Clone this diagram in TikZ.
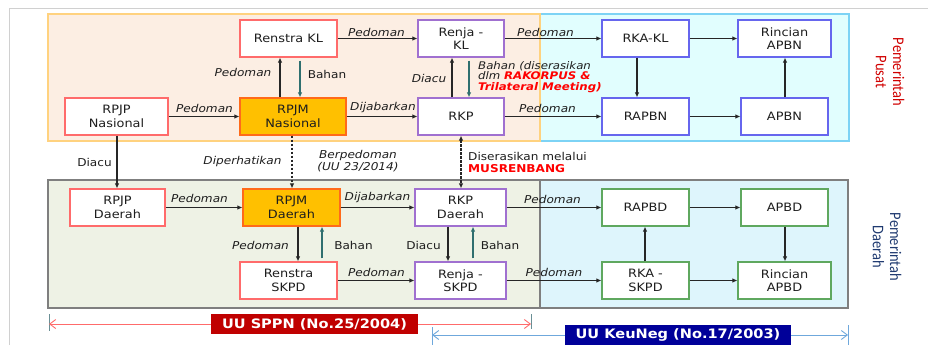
\documentclass[tikz,border=0pt]{standalone}
\usepackage{fontspec}
\setmainfont{DejaVu Sans}[FakeStretch=1.12]
\newfontfamily\carl{Carlito}
\usetikzlibrary{arrows.meta}
\definecolor{framec}{HTML}{D0D0D0}
\definecolor{peachf}{HTML}{FCEEE3}
\definecolor{peachb}{HTML}{FFD27F}
\definecolor{cyanf}{HTML}{E1FEFE}
\definecolor{cyanb}{HTML}{7DD3F5}
\definecolor{greenf}{HTML}{EEF2E5}
\definecolor{bluef}{HTML}{DEF5FC}
\definecolor{greyb}{HTML}{7F7F7F}
\definecolor{txt}{HTML}{1E1E1E}
\definecolor{arrc}{HTML}{262626}
\definecolor{tealc}{HTML}{2F6F6F}
\definecolor{boxred}{HTML}{FF6B6B}
\definecolor{boxorange}{HTML}{FF6A1A}
\definecolor{fillorange}{HTML}{FFC000}
\definecolor{boxpurple}{HTML}{A070D0}
\definecolor{boxblue}{HTML}{6666EE}
\definecolor{boxgreen}{HTML}{5FA85F}
\definecolor{hot}{HTML}{FF0000}
\definecolor{sppnc}{HTML}{C00000}
\definecolor{keunegc}{HTML}{000099}
\definecolor{redl}{HTML}{FF6B6B}
\definecolor{bluel}{HTML}{6FA8DC}
\definecolor{tickc}{HTML}{6A8F95}
\definecolor{pusatc}{HTML}{D00000}
\definecolor{daerahc}{HTML}{1F3A70}
\tikzset{
  box/.style={draw, line width=1.2pt, fill=white, minimum height=37pt, inner sep=1pt,
    align=center, text=txt, font=\fontsize{11.5}{13.5}\selectfont},
  rbox/.style={box, draw=boxred},
  obox/.style={box, draw=boxorange, fill=fillorange},
  pbox/.style={box, draw=boxpurple},
  bbox/.style={box, draw=boxblue},
  gbox/.style={box, draw=boxgreen},
  arr/.style={-{Latex[length=5pt,width=4.5pt]}, line width=1.1pt, draw=arrc},
  tarr/.style={arr, draw=tealc, shorten <=3pt},
  darr/.style={arr, dash pattern=on 2.5pt off 1.5pt},
  lbl/.style={inner sep=0pt, text=txt, font=\fontsize{10.8}{12}\selectfont\itshape},
  lblr/.style={inner sep=0pt, text=txt, font=\fontsize{10.8}{12}\selectfont},
  sidelbl/.style={xscale=1.12, rotate=-90, align=center, font=\carl\fontsize{14.5}{15.5}\selectfont},
  lawbox/.style={inner sep=0pt, minimum height=20pt, text=white, font=\fontsize{13}{15}\selectfont\bfseries},
  barb/.style={{Straight Barb[length=6pt,width=9pt]}-{Straight Barb[length=6pt,width=9pt]}}
}
\begin{document}
\begin{tikzpicture}[x=1pt,y=-1pt]
\useasboundingbox (0,0) rectangle (928,345);
% outer frame
\draw[framec, line width=1pt] (9,345) -- (9,8.5) -- (928,8.5);
% panels
\filldraw[fill=cyanf, draw=cyanb, line width=1.3pt] (540,14) rectangle (849,141);
\filldraw[fill=peachf, draw=peachb, line width=1.3pt] (48,14) rectangle (540,141);
\filldraw[fill=bluef, draw=greyb, line width=1.3pt] (540,180) rectangle (848,308);
\filldraw[fill=greenf, draw=greyb, line width=1.3pt] (48,180) rectangle (540,308);

% column coordinates
\coordinate (c117) at (117,0);
\coordinate (c280) at (280,0);
\coordinate (c300) at (300,0);
\coordinate (c292) at (292,0);
\coordinate (c452) at (452,0);
\coordinate (c469) at (469,0);
\coordinate (c461) at (461,0);
\coordinate (c637) at (637,0);
\coordinate (c785) at (785,0);
\coordinate (c298) at (298,0);
\coordinate (c322) at (322,0);
\coordinate (c448) at (448,0);
\coordinate (c473) at (473,0);
\coordinate (c645) at (645,0);

% upper nodes
\node[rbox, minimum width=97pt] (renstraKL) at (288.5,38.5) {Renstra KL};
\node[pbox, minimum width=86pt] (renjaKL) at (461,38.5) {Renja -\\KL};
\node[bbox, minimum width=87pt] (rkaKL) at (645.5,38.5) {RKA-KL};
\node[bbox, minimum width=93pt] (rincianAPBN) at (784.5,38.5) {Rincian\\APBN};
\node[rbox, minimum width=103pt] (rpjpN) at (116.5,116.5) {RPJP\\Nasional};
\node[obox, minimum width=106pt] (rpjmN) at (293,116.5) {RPJM\\Nasional};
\node[pbox, minimum width=86pt] (rkp) at (461,116.5) {RKP};
\node[bbox, minimum width=87pt] (rapbn) at (645.5,116.5) {RAPBN};
\node[bbox, minimum width=87pt] (apbn) at (784.5,116.5) {APBN};

% lower nodes
\node[rbox, minimum width=95pt] (rpjpD) at (117.5,207.5) {RPJP\\Daerah};
\node[obox, minimum width=97pt] (rpjmD) at (291.5,207.5) {RPJM\\Daerah};
\node[pbox, minimum width=91pt] (rkpD) at (460.5,207.5) {RKP\\Daerah};
\node[gbox, minimum width=87pt] (rapbd) at (645.5,207.5) {RAPBD};
\node[gbox, minimum width=87pt] (apbd) at (784.5,207.5) {APBD};
\node[rbox, minimum width=97pt] (renstraSKPD) at (288.5,280.5) {Renstra\\SKPD};
\node[pbox, minimum width=91pt] (renjaSKPD) at (460.5,280.5) {Renja -\\SKPD};
\node[gbox, minimum width=87pt] (rkaSKPD) at (645.5,280.5) {RKA -\\SKPD};
\node[gbox, minimum width=93pt] (rincianAPBD) at (784.5,280.5) {Rincian\\APBD};

% upper horizontal connectors
\draw[arr] (renstraKL) -- (renjaKL);
\draw[arr] (renjaKL) -- (rkaKL);
\draw[arr] (rkaKL) -- (rincianAPBN);
\draw[arr] (rpjpN) -- (rpjmN);
\draw[arr] (rpjmN) -- (rkp);
\draw[arr] (rkp) -- (rapbn);
\draw[arr] (rapbn) -- (apbn);
% upper vertical connectors
\draw[arr] (rpjmN.north -| c280) -- (renstraKL.south -| c280);
\draw[tarr] (renstraKL.south -| c300) -- (rpjmN.north -| c300);
\draw[arr] (rkp.north -| c452) -- (renjaKL.south -| c452);
\draw[tarr] (renjaKL.south -| c469) -- (rkp.north -| c469);
\draw[arr] (rkaKL.south -| c637) -- (rapbn.north -| c637);
\draw[arr] (apbn.north -| c785) -- (rincianAPBN.south -| c785);

% between levels
\draw[arr] (rpjpN.south -| c117) -- (rpjpD.north -| c117);
\draw[darr] (rpjmN.south -| c292) -- (rpjmD.north -| c292);
\draw[darr, {Latex[length=5pt,width=4.5pt]}-{Latex[length=5pt,width=4.5pt]}] (rkp.south -| c461) -- (rkpD.north -| c461);

% lower horizontal connectors
\draw[arr] (rpjpD) -- (rpjmD);
\draw[arr] (rpjmD) -- (rkpD);
\draw[arr] (rkpD) -- (rapbd);
\draw[arr] (rapbd) -- (apbd);
\draw[arr] (renstraSKPD) -- (renjaSKPD);
\draw[arr] (renjaSKPD) -- (rkaSKPD);
\draw[arr] (rkaSKPD) -- (rincianAPBD);
% lower vertical connectors
\draw[arr] (rpjmD.south -| c298) -- (renstraSKPD.north -| c298);
\draw[tarr] (renstraSKPD.north -| c322) -- (rpjmD.south -| c322);
\draw[arr] (rkpD.south -| c448) -- (renjaSKPD.north -| c448);
\draw[tarr] (renjaSKPD.north -| c473) -- (rkpD.south -| c473);
\draw[arr] (rkaSKPD.north -| c645) -- (rapbd.south -| c645);
\draw[arr] (apbd.south -| c785) -- (rincianAPBD.north -| c785);

% upper labels
\node[lbl] (l1) at (376.5,32) {Pedoman};
\node[lbl] (l2) at (545.5,32) {Pedoman};
\node[lbl] (l3) at (204.5,108) {Pedoman};
\node[lbl] (l4) at (383,108) {Dijabarkan};
\node[lbl] (l5) at (547.5,108) {Pedoman};
\node[lbl] (l6) at (243,72) {Pedoman};
\node[lblr] (l7) at (327,74) {Bahan};
\node[lbl] (l8) at (429,78) {Diacu};
\node[lbl, anchor=north west, align=left, font=\fontsize{10.5}{10.8}\selectfont\itshape] (l9) at (478,61)
  {Bahan (diserasikan\\dlm \textcolor{hot}{\bfseries RAKORPUS \&}\\\textcolor{hot}{\bfseries Trilateral Meeting)}};
% middle labels
\node[lblr] (l10) at (94.5,162) {Diacu};
\node[lbl] (l11) at (242.5,162) {Diperhatikan};
\node[lbl, align=center] (l12) at (358,161.5) {Berpedoman\\(UU 23/2014)};
\node[lblr, anchor=west, align=left] (l13) at (468,162) {Diserasikan melalui\\\textcolor{hot}{\bfseries MUSRENBANG}};
% lower labels
\node[lbl] (l14) at (199.5,198) {Pedoman};
\node[lbl] (l15) at (377.5,198) {Dijabarkan};
\node[lbl] (l16) at (552.5,199) {Pedoman};
\node[lbl] (l17) at (260.5,245) {Pedoman};
\node[lblr] (l18) at (353.5,245) {Bahan};
\node[lblr] (l19) at (423.5,245) {Diacu};
\node[lblr] (l20) at (500,245) {Bahan};
\node[lbl] (l21) at (376.5,272) {Pedoman};
\node[lbl] (l22) at (554,272) {Pedoman};

% right side labels
\node[sidelbl, text=pusatc] (pusat) at (890,72) {Pemerintah\\Pusat};
\node[sidelbl, text=daerahc] (daerah) at (887,247) {Pemerintah\\Daerah};

% law bars
\coordinate (sppnL) at (49,324);
\coordinate (sppnR) at (531,324);
\coordinate (keuL) at (432,335);
\coordinate (keuR) at (848,335);
\draw[tickc, line width=1pt] (49,314) -- (49,331);
\draw[tickc, line width=1pt] (531,314) -- (531,329);
\draw[bluel, line width=1pt] (432,327) -- (432,345);
\draw[bluel, line width=1pt] (848,325) -- (848,345);
\draw[redl, line width=0.9pt, barb] (sppnL) -- (sppnR);
\draw[bluel, line width=0.9pt, barb] (keuL) -- (keuR);
\node[lawbox, fill=sppnc, minimum width=207pt] (sppn) at (314.5,324) {UU SPPN (No.25/2004)};
\node[lawbox, fill=keunegc, minimum width=226pt] (keuneg) at (678,335) {UU KeuNeg (No.17/2003)};
\end{tikzpicture}
\end{document}
